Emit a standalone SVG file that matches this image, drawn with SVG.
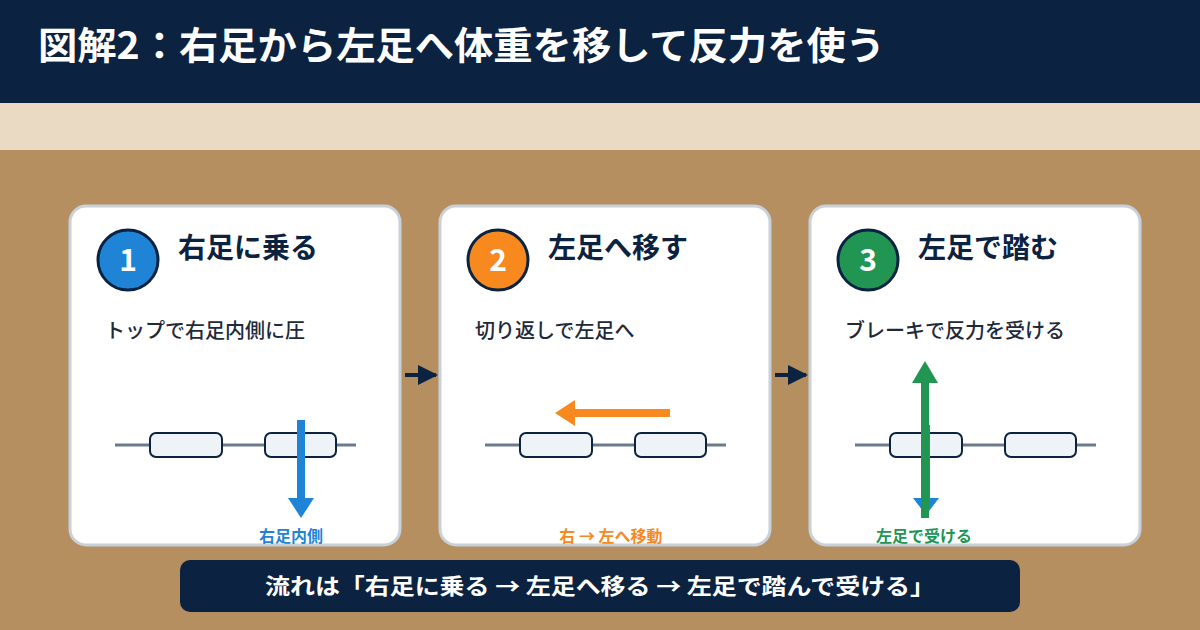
<svg xmlns="http://www.w3.org/2000/svg" width="1200" height="630" viewBox="0 0 1200 630">
<defs>
<style>
text{font-family:"Noto Sans CJK JP","Noto Sans",sans-serif}
.card{fill:#fff;stroke:#c8d0da;stroke-width:3}
.num{fill:#fff;font-size:30px;font-weight:700;text-anchor:middle}
.ttl{fill:#0b2240;font-size:28px;font-weight:700}
.sub{fill:#1e2a3a;font-size:20px;font-weight:500}
.lbl{font-size:16px;font-weight:700;text-anchor:middle}
.foot{fill:#eef3f8;stroke:#0b2240;stroke-width:2}
.base{stroke:#6b7a8c;stroke-width:3}
</style>
<marker id="ah" viewBox="0 0 10 10" refX="9" refY="5" markerWidth="5" markerHeight="5" orient="auto"><path d="M0,0L10,5L0,10z" fill="#0b2240"/></marker>
</defs>
<rect width="1200" height="630" fill="#b68f60"/>
<rect width="1200" height="103" fill="#0b2240"/>
<rect y="103" width="1200" height="47" fill="#eadac4"/>
<text x="38" y="59" fill="#fff" font-size="38" font-weight="700" textLength="847" lengthAdjust="spacingAndGlyphs">図解2：右足から左足へ体重を移して反力を使う</text>

<g id="node1">
<rect class="card" x="70" y="206" width="330" height="339" rx="16"/>
<circle cx="128" cy="260" r="30" fill="#1f84d6" stroke="#0b2240" stroke-width="3"/>
<text class="num" x="128" y="271">1</text>
<text class="ttl" x="178" y="258">右足に乗る</text>
<text class="sub" x="105" y="338">トップで右足内側に圧</text>
<line class="base" x1="115" y1="445" x2="356" y2="445"/>
<rect class="foot" x="150" y="433" width="72" height="24" rx="6"/>
<rect class="foot" x="265" y="433" width="71" height="24" rx="6"/>
<rect x="297" y="420" width="8" height="80" fill="#1f84d6"/>
<path d="M288,498H314L301,518z" fill="#1f84d6"/>
<text class="lbl" x="291" y="542" fill="#1f84d6">右足内側</text>
</g>

<g id="node2">
<rect class="card" x="440" y="206" width="330" height="339" rx="16"/>
<circle cx="498" cy="260" r="30" fill="#f7891f" stroke="#0b2240" stroke-width="3"/>
<text class="num" x="498" y="271">2</text>
<text class="ttl" x="548" y="258">左足へ移す</text>
<text class="sub" x="475" y="338">切り返しで左足へ</text>
<line class="base" x1="485" y1="445" x2="726" y2="445"/>
<rect class="foot" x="520" y="433" width="72" height="24" rx="6"/>
<rect class="foot" x="635" y="433" width="71" height="24" rx="6"/>
<rect x="573" y="409" width="97" height="8" fill="#f7891f"/>
<path d="M575,400V426L555,413z" fill="#f7891f"/>
<text class="lbl" x="611" y="542" fill="#f7891f">右 → 左へ移動</text>
</g>

<g id="node3">
<rect class="card" x="810" y="206" width="330" height="339" rx="16"/>
<circle cx="868" cy="260" r="30" fill="#219653" stroke="#0b2240" stroke-width="3"/>
<text class="num" x="868" y="271">3</text>
<text class="ttl" x="918" y="258">左足で踏む</text>
<text class="sub" x="845" y="338">ブレーキで反力を受ける</text>
<line class="base" x1="855" y1="445" x2="1096" y2="445"/>
<rect class="foot" x="890" y="433" width="72" height="24" rx="6"/>
<rect class="foot" x="1005" y="433" width="71" height="24" rx="6"/>
<rect x="922" y="425" width="8" height="75" fill="#1f84d6"/>
<path d="M913,498H939L926,515z" fill="#1f84d6"/>
<rect x="921" y="380" width="8" height="138" fill="#219653"/>
<path d="M912,383H938L925,361z" fill="#219653"/>
<text class="lbl" x="924" y="542" fill="#219653">左足で受ける</text>
</g>

<g id="connectors">
<line x1="405" y1="375" x2="436" y2="375" stroke="#0b2240" stroke-width="4" marker-end="url(#ah)"/>
<line x1="775" y1="375" x2="806" y2="375" stroke="#0b2240" stroke-width="4" marker-end="url(#ah)"/>
</g>

<g id="summary">
<rect x="180" y="560" width="840" height="52" rx="10" fill="#0b2240"/>
<text x="600" y="594" fill="#fff" font-size="22" font-weight="700" text-anchor="middle" textLength="670" lengthAdjust="spacingAndGlyphs">流れは「右足に乗る → 左足へ移る → 左足で踏んで受ける」</text>
</g>
</svg>
